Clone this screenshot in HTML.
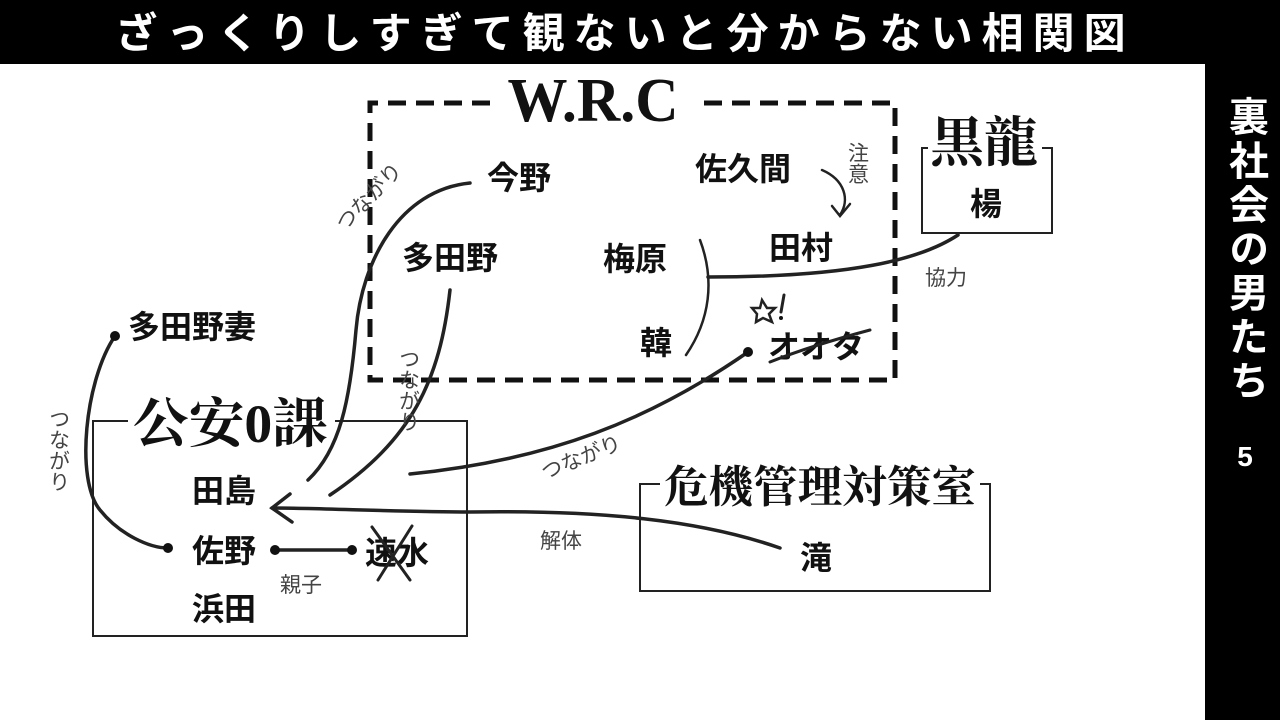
<!DOCTYPE html>
<html><head><meta charset="utf-8"><style>
html,body{margin:0;padding:0;background:#fff;}
svg{display:block;}
.n{font-family:"Liberation Sans","Noto Sans CJK JP",sans-serif;font-weight:bold;font-size:32px;fill:#111;}
.s{font-family:"Liberation Serif","Noto Serif CJK SC",serif;font-weight:bold;fill:#111;}
.h{font-family:"Liberation Sans","Noto Sans CJK JP",sans-serif;font-size:21px;fill:#444;}
</style></head><body>
<svg width="1280" height="720" viewBox="0 0 1280 720" xmlns="http://www.w3.org/2000/svg">
<rect x="0" y="0" width="1280" height="720" fill="#fff"/>
<rect x="0" y="0" width="1280" height="64" fill="#000"/>
<rect x="1205" y="64" width="75" height="656" fill="#000"/>
<text x="625" y="48" text-anchor="middle" font-family="Liberation Sans,Noto Sans CJK JP,sans-serif" font-weight="bold" font-size="42" letter-spacing="9" fill="#fff">ざっくりしすぎて観ないと分からない相関図</text>
<text x="1245" y="96" writing-mode="tb" glyph-orientation-vertical="0" font-family="Liberation Sans,Noto Sans CJK JP,sans-serif" font-weight="bold" font-size="40" fill="#fff" letter-spacing="4">裏社会の男たち</text>
<text x="1245" y="466" text-anchor="middle" font-family="Liberation Sans,sans-serif" font-weight="bold" font-size="28" fill="#fff">5</text>

<path d="M490,103 L370,103 L370,380 L895,380 L895,103 L695,103" fill="none" stroke="#111" stroke-width="5" stroke-dasharray="18,10"/>
<text x="593" y="121" text-anchor="middle" class="s" font-size="60" transform="translate(593,121) scale(1,1.05) translate(-593,-121)">W.R.C</text>

<path d="M928,148 L922,148 L922,233 L1052,233 L1052,148 L1042,148" fill="none" stroke="#222" stroke-width="2"/>
<text x="930" y="161" class="s" font-size="54">黒龍</text>
<text x="970" y="215" class="n">楊</text>

<path d="M128,421 L93,421 L93,636 L467,636 L467,421 L335,421" fill="none" stroke="#222" stroke-width="2"/>
<text x="133" y="442" class="s" font-size="54" textLength="195" lengthAdjust="spacingAndGlyphs">公安0課</text>

<path d="M660,484 L640,484 L640,591 L990,591 L990,484 L980,484" fill="none" stroke="#222" stroke-width="2"/>
<text x="664" y="502" class="s" font-size="44" textLength="312" lengthAdjust="spacingAndGlyphs">危機管理対策室</text>

<text x="487" y="189" class="n">今野</text>
<text x="695" y="180" class="n">佐久間</text>
<text x="402" y="269" class="n">多田野</text>
<text x="603" y="270" class="n">梅原</text>
<text x="769" y="259" class="n">田村</text>
<text x="640" y="354" class="n">韓</text>
<text x="768" y="358" class="n">オオタ</text>
<text x="128" y="338" class="n">多田野妻</text>
<text x="192" y="502" class="n">田島</text>
<text x="192" y="562" class="n">佐野</text>
<text x="192" y="620" class="n">浜田</text>
<text x="365" y="564" class="n">速水</text>
<text x="800" y="569" class="n">滝</text>

<g fill="none" stroke="#222" stroke-width="3.5" stroke-linecap="round">
<path d="M470,183 C400,190 362,260 356,330 C350,400 340,450 308,480"/>
<path d="M450,290 C440,380 412,440 330,495"/>
<path d="M780,548 C700,520 600,510 470,512 C400,512 320,508 272,508"/>
<path d="M290,494 L272,508 L292,522"/>
<path d="M748,352 C650,420 550,460 410,474"/>
<path d="M700,240 C715,280 710,320 686,355" stroke-width="2.5"/>
<path d="M958,235 C920,260 850,277 708,277"/>
<path d="M822,170 C845,180 850,200 840,215" stroke-width="2.5"/>
<path d="M832,206 L840,216 L850,204" stroke-width="2.5"/>
<path d="M115,336 C85,380 75,480 100,510 C120,535 150,548 168,548"/>
<path d="M275,550 L352,550"/>
<path d="M372,527 L410,580 M412,526 L378,580" stroke-width="3"/>
<path d="M770,362 C800,350 840,338 870,330" stroke-width="3"/>
<path d="M762,300 L767,308 L775,308 L769,314 L772,322 L763,318 L756,322 L757,314 L752,308 L760,308 Z" stroke-width="2.5"/>
<path d="M784,295 L781,312" stroke-width="3"/>
</g>
<g fill="#111">
<circle cx="115" cy="336" r="5"/><circle cx="168" cy="548" r="5"/>
<circle cx="275" cy="550" r="5"/><circle cx="352" cy="550" r="5"/>
<circle cx="748" cy="352" r="5"/><circle cx="781" cy="318" r="2"/>
</g>

<text class="h" transform="translate(345,232) rotate(-46)">つながり</text>
<text class="h" x="857" y="142" writing-mode="tb" glyph-orientation-vertical="0">注意</text>
<text class="h" x="925" y="285">協力</text>
<text class="h" x="408" y="348" writing-mode="tb" glyph-orientation-vertical="0">つながり</text>
<text class="h" transform="translate(545,480) rotate(-22)">つながり</text>
<text class="h" x="540" y="548" font-size="23">解体</text>
<text class="h" x="280" y="592" font-size="23">親子</text>
<text class="h" x="58" y="408" writing-mode="tb" glyph-orientation-vertical="0">つながり</text>
</svg>
</body></html>
